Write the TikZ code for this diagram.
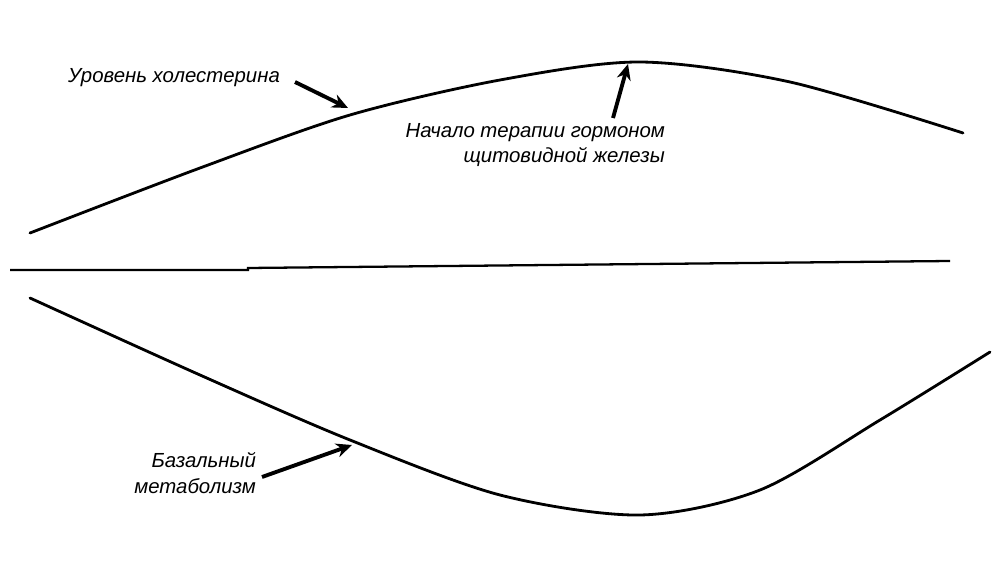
\documentclass[tikz,border=0pt]{standalone}
\usepackage{fontspec}
\setmainfont{Liberation Sans}
\usetikzlibrary{arrows.meta, positioning}

\begin{document}
\begin{tikzpicture}[x=0.02cm, y=-0.02cm,
    curve/.style={line width=1.6pt, line cap=round},
    pointer/.style={-{Stealth[length=9pt, width=8pt]}, line width=2.2pt},
    lbl/.style={font=\fontsize{11.6}{14.5}\selectfont\itshape, inner sep=1pt}
]
\useasboundingbox (0,0) rectangle (999,570);

% Cholesterol level
\draw[curve] plot[smooth, tension=0.5] coordinates {(30,233) (200,168) (350,115) (500,80) (640,62) (790,82) (963,133)};
% Baseline
\draw[line width=1.3pt] (10,270) -- (248,270) -- (248,268) -- (950,261);
% Basal metabolism
\draw[curve] plot[smooth, tension=0.5] coordinates {(30,298) (200,375) (350,440) (500,495) (640,515) (760,490) (880,420) (990,352)};

% Labels
\node[lbl, anchor=east] (chol) at (282,78) {Уровень холестерина};
\node[lbl, anchor=east, align=right] (ther) at (667,145) {Начало терапии гормоном\\щитовидной железы};
\node[lbl, anchor=east, align=right] (meta) at (258,473) {Базальный\\метаболизм};

\coordinate (cholTip) at (348,108);
\coordinate (therTip) at (628,64);
\coordinate (metaTip) at (352,445);

% Arrows
\draw[pointer] (295,82) -- (cholTip);
\draw[pointer] (613,118) -- (therTip);
\draw[pointer] (262,477) -- (metaTip);
\end{tikzpicture}
\end{document}
